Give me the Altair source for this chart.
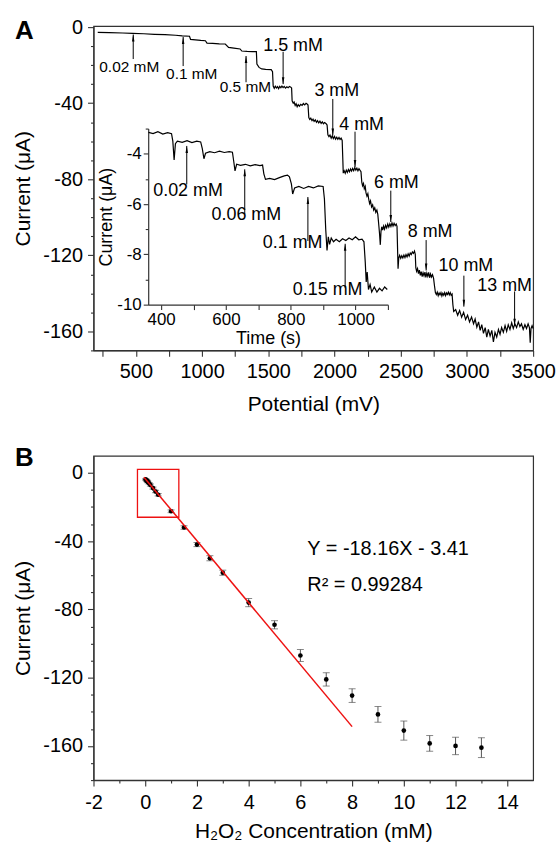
import altair as alt
import pandas as pd

FONT = "Liberation Sans"

# ---------------- Panel A : main amperometric trace ----------------
a_x = [212, 300, 400, 475, 560, 640, 720, 800, 850, 905, 913, 950, 990, 1025, 1037, 1080, 1130, 1175, 1200, 1240,
       1287, 1300, 1340, 1380, 1410, 1414, 1430, 1450, 1480, 1522, 1532, 1537,
       1545, 1553, 1561, 1570, 1578, 1586, 1595, 1603, 1612, 1620, 1630, 1640, 1650, 1660, 1670, 1676,
       1680, 1688, 1695, 1703, 1710, 1718, 1726, 1735, 1745, 1755, 1765, 1775, 1785, 1795, 1800,
       1806, 1813, 1821, 1830, 1838, 1846, 1855, 1864, 1872, 1881, 1890, 1899, 1908, 1916, 1925, 1935, 1944,
       1950, 1958, 1966, 1975, 1983, 1991, 2000, 2008, 2017, 2025, 2034, 2042, 2050, 2058,
       2063, 2066, 2073, 2081, 2089, 2097, 2105, 2113, 2121, 2129, 2137, 2145, 2153, 2161, 2169, 2177, 2185, 2193, 2200,
       2206, 2212, 2219, 2225, 2232, 2238, 2245, 2252, 2258, 2265, 2272, 2280, 2288, 2296, 2304, 2312, 2320, 2327,
       2333, 2340, 2346, 2351, 2357, 2364, 2371, 2378, 2386, 2394, 2402, 2410, 2418, 2426, 2434, 2442, 2450, 2458,
       2466, 2472,
       2476, 2480, 2485, 2492, 2500, 2508, 2516, 2524, 2532, 2540, 2548, 2556, 2564, 2572, 2580, 2588, 2596, 2604, 2610,
       2614, 2620, 2627, 2634, 2641, 2648, 2655, 2662, 2669, 2676, 2683, 2690, 2697, 2704, 2711, 2718, 2725, 2732,
       2740, 2748,
       2755, 2762, 2769, 2776, 2783, 2790, 2797, 2804, 2811, 2818, 2825, 2832, 2839, 2846, 2853, 2860, 2867, 2874,
       2881, 2888,
       2894, 2900, 2915, 2930, 2945, 2960, 2975, 2990, 3005, 3020, 3035, 3050, 3062, 3075, 3088, 3100, 3112, 3125,
       3138, 3150, 3162, 3175, 3188, 3200, 3212, 3225, 3238, 3250, 3262, 3275, 3288, 3300, 3312, 3325, 3338, 3350,
       3362, 3375, 3388, 3400, 3412, 3425, 3438, 3450, 3462, 3472, 3478, 3484, 3492, 3500]
a_y = [-2.8, -2.9, -3.1, -3.3, -3.5, -3.8, -4.0, -4.3, -4.6, -4.8, -6.5, -6.7, -7.0, -7.2, -8.4, -8.6, -8.8, -8.9,
       -10.7, -11.1, -11.5, -12.6, -12.8, -12.9, -12.9, -19.4, -21.2, -22.0, -22.2, -22.4, -23.5, -31.0,
       -32.2, -31.1, -32.0, -31.3, -32.4, -31.2, -31.9, -31.0, -31.8, -31.2, -32.1, -31.4, -31.9, -31.2, -31.6, -32.0,
       -38.8, -40.0, -39.4, -41.2, -40.3, -41.9, -40.8, -41.6, -40.6, -41.2, -40.2, -40.9, -40.1, -40.6, -41.0,
       -47.6, -48.6, -47.9, -49.2, -48.4, -49.6, -48.8, -50.1, -49.2, -50.4, -49.5, -50.6, -49.8, -50.8, -50.2, -50.7,
       -51.5,
       -56.6, -57.6, -56.8, -58.4, -57.2, -58.6, -57.5, -58.9, -57.9, -59.0, -58.0, -59.1, -58.4, -59.6,
       -70.0, -76.8, -75.6, -76.9, -75.2, -76.4, -74.9, -76.1, -74.6, -75.7, -74.3, -75.5, -73.9, -75.2, -74.2, -75.6,
       -74.5, -75.3, -76.0,
       -81.5, -83.4, -82.2, -85.0, -83.8, -87.2, -88.9, -87.6, -90.4, -92.8, -91.4, -94.6, -93.5, -96.2, -95.0, -97.4,
       -96.2, -98.5,
       -103.0, -108.5, -114.5, -107.5, -105.0, -106.8, -104.6, -106.2, -104.2, -105.6, -103.6, -105.2, -103.4, -104.8,
       -103.0, -104.6, -103.2, -104.4, -103.6, -104.8,
       -116.0, -127.0, -121.5, -120.0, -121.6, -120.2, -121.4, -119.9, -121.2, -119.6, -120.8, -119.2, -120.4, -118.8,
       -119.6, -118.2, -119.0, -117.8, -119.5,
       -126.5, -128.4, -127.0, -129.6, -127.8, -130.6, -128.6, -131.2, -129.2, -130.8, -128.8, -131.6, -129.4, -131.0,
       -129.0, -131.8, -129.8, -131.4, -130.2, -132.0,
       -136.0, -139.6, -140.6, -139.4, -141.2, -139.8, -140.8, -139.6, -141.4, -140.0, -141.0, -139.6, -141.2, -139.8,
       -140.6, -139.4, -140.8, -139.6, -141.0, -140.4,
       -146.0, -149.5, -148.5, -151.5, -149.0, -152.5, -150.0, -153.8, -151.5, -155.0, -152.5, -156.0, -153.5, -157.8,
       -155.0, -159.5, -156.5, -161.0, -158.0, -163.0, -159.0, -162.5, -159.5, -165.5, -160.5, -163.0, -159.0, -161.5,
       -158.0, -160.5, -157.0, -160.0, -156.5, -159.0, -155.5, -158.5, -156.0, -158.0, -155.0, -157.5, -156.0, -159.0,
       -156.5, -158.5, -156.0, -158.0, -166.0, -158.5, -157.0, -158.5]

# arrows of the main trace
arr_x = [480, 857, 1332, 1612, 1987, 2155, 2425, 2692, 2977, 3360]
arr_tail = [-16.8, -20.5, -29.0, -13.0, -37.8, -55.0, -86.0, -112.0, -130.7, -139.0]
arr_head = [-3.9, -5.2, -15.2, -30.0, -57.0, -73.6, -102.5, -128.0, -147.0, -157.0]
arr_label = ["0.02 mM", "0.1 mM", "0.5 mM", "1.5 mM", "3 mM", "4 mM", "6 mM", "8 mM", "10 mM", "13 mM"]
arr_label_x = [450, 922, 1327, 1687, 2017, 2205, 2467, 2722, 2992, 3285]
arr_label_y = [-21.0, -24.7, -31.5, -10.0, -33.6, -51.4, -82.0, -107.6, -125.5, -136.0]
arr_font = [15.5, 15.5, 15.5, 18, 18, 18, 18, 18, 18, 18]

# ---------------- Panel A : inset ----------------
in_x = [361, 375, 390, 405, 420, 432, 436, 440, 444, 450, 465, 480, 495, 510, 522, 527, 532, 537, 550, 565, 580,
        595, 610, 620, 624, 628, 633, 645, 660, 675, 690, 705, 713, 717, 722, 735, 750, 765, 780, 790, 796, 802,
        806, 812, 825, 840, 855, 870, 885, 900, 904, 908, 912, 916, 920, 925, 932, 940, 950, 960, 970, 980, 990,
        1000, 1010, 1020, 1026, 1030, 1033, 1036, 1040, 1045, 1050, 1058, 1066, 1074, 1082, 1090, 1098]
in_y = [-3.15, -3.2, -3.12, -3.22, -3.16, -3.2, -3.5, -4.25, -3.6, -3.5, -3.55, -3.48, -3.56, -3.5, -3.53, -3.8,
        -4.2, -3.98, -3.92, -3.96, -3.9, -3.95, -3.92, -3.94, -4.3, -4.68, -4.42, -4.46, -4.42, -4.48, -4.43, -4.47,
        -4.45, -4.8, -5.02, -4.98, -5.03, -4.95, -4.88, -4.85, -4.92, -5.2, -5.6, -5.36, -5.3, -5.38, -5.3, -5.36,
        -5.28, -5.3, -5.8, -7.0, -7.85, -7.3, -7.6, -7.35, -7.5, -7.4, -7.5, -7.38, -7.45, -7.35, -7.42, -7.3,
        -7.42, -7.4, -7.5, -8.3, -9.1, -8.7, -9.4, -9.2, -9.5, -9.3, -9.5, -9.35, -9.45, -9.3, -9.4]

in_arr_x = [479, 658, 853, 968]
in_arr_tail = [-5.22, -6.41, -7.47, -9.33]
in_arr_head = [-3.69, -4.62, -5.72, -7.58]
in_label = ["0.02 mM", "0.06 mM", "0.1 mM", "0.15 mM"]
in_label_x = [483, 663, 806, 914]
in_label_y = [-5.47, -6.45, -7.54, -9.42]

# ---------------- Panel B : calibration ----------------
conc = [0.02, 0.04, 0.06, 0.08, 0.1, 0.15, 0.2, 0.3, 0.4, 0.5, 1, 1.5, 2, 2.5, 3, 4, 5, 6, 7, 8, 9, 10, 11, 12, 13]
cur = [-3.8, -4.2, -4.5, -4.9, -5.3, -6.1, -7.1, -8.9, -10.9, -12.8, -22.5, -32.0, -42.0, -50.0, -58.5, -76.0,
       -89.0, -107.0, -121.0, -130.5, -141.5, -151.0, -158.5, -160.0, -161.0]
err = [0.4, 0.4, 0.4, 0.5, 0.5, 0.5, 0.6, 0.6, 0.7, 0.7, 0.8, 1.0, 1.2, 1.5, 1.5, 2.4, 2.4, 3.5, 3.9, 4.0, 4.6,
       5.6, 4.6, 5.1, 5.8]
fit_x = [-0.05, 8]
fit_slope = -18.16
fit_icpt = -3.41
box_x = [-0.3, 1.3]
box_y = [2, -26]
eq_text = ["Y = -18.16X - 3.41", "R² = 0.99284"]
eq_x = [6.27, 6.27]
eq_y = [-44.5, -65.8]

# ---------------- styling helpers ----------------
UP = "M0,0L0.36,2L-0.36,2Z"
DOWN = "M0,0L0.36,-2L-0.36,-2Z"


def cond_tick(mod, big, small):
    return {"condition": {"test": f"datum.value % {mod} == 0", "value": big}, "value": small}


def lab(mod):
    return f"datum.value % {mod} == 0 ? '' + datum.value : ''"


W, H = 442, 326

# ---- main A ----
xA = alt.X("x:Q", scale=alt.Scale(domain=[180, 3500], nice=False, zero=False),
           axis=alt.Axis(title="Potential (mV)", values=list(range(250, 3501, 250)), labelExpr=lab(500),
                         tickSize=6, labelPadding=5, titlePadding=12, labelFlush=False))
yA = alt.Y("y:Q", scale=alt.Scale(domain=[-170, 0.5], nice=False, zero=False),
           axis=alt.Axis(title="Current (μA)", values=list(range(-170, 1, 10)), labelExpr=lab(40),
                         tickSize=cond_tick(40, 6, 3), labelPadding=5, titlePadding=9))

dfA = pd.DataFrame({"x": a_x, "y": a_y})
dfArr = pd.DataFrame({"x": arr_x, "y": arr_tail, "y2": arr_head})
dfHead = pd.DataFrame({"x": arr_x, "y": arr_head,
                       "dir": ["up" if h > t else "down" for h, t in zip(arr_head, arr_tail)]})
dfLab = pd.DataFrame({"x": arr_label_x, "y": arr_label_y, "t": arr_label, "fs": arr_font})

shape_enc = alt.Shape("dir:N", scale=alt.Scale(domain=["up", "down"], range=[UP, DOWN]), legend=None)

mainA = alt.layer(
    alt.Chart(dfA).mark_line(color="black", strokeWidth=1.2).encode(x=xA, y=yA, order="x:Q"),
    alt.Chart(dfArr).mark_rule(color="black", strokeWidth=1).encode(x=xA, y=yA, y2="y2:Q"),
    alt.Chart(dfHead).mark_point(filled=True, color="black", opacity=1, size=49, strokeWidth=0).encode(
        x=xA, y=yA, shape=shape_enc),
    alt.Chart(dfLab).mark_text(font=FONT, color="black", baseline="middle", align="center").encode(
        x=xA, y=yA, text="t:N", size=alt.Size("fs:Q", scale=None)),
)

# ---- inset A ----
xI = alt.X("x:Q", scale=alt.Scale(domain=[360, 1100], range=[55, 296], nice=False, zero=False),
           axis=alt.Axis(orient="bottom", offset=-46, title="Time (s)", values=list(range(400, 1101, 100)),
                         labelExpr=lab(200), tickSize=5, labelPadding=2, titlePadding=2,
                         labelFontSize=17, titleFontSize=18, labelFlush=False))
yI = alt.Y("y:Q", scale=alt.Scale(domain=[-10, -3], range=[280, 103], nice=False, zero=False),
           axis=alt.Axis(orient="left", offset=-55, title="Current (μA)", values=list(range(-10, -2, 1)),
                         labelExpr=lab(2), tickSize=cond_tick(2, 5, 3), labelPadding=2, titlePadding=1,
                         labelFontSize=17, titleFontSize=18))

dfI = pd.DataFrame({"x": in_x, "y": in_y})
dfIArr = pd.DataFrame({"x": in_arr_x, "y": in_arr_tail, "y2": in_arr_head})
dfIHead = pd.DataFrame({"x": in_arr_x, "y": in_arr_head, "dir": ["up"] * len(in_arr_x)})
dfILab = pd.DataFrame({"x": in_label_x, "y": in_label_y, "t": in_label})

insetA = alt.layer(
    alt.Chart(dfI).mark_line(color="black", strokeWidth=1.2).encode(x=xI, y=yI, order="x:Q"),
    alt.Chart(dfIArr).mark_rule(color="black", strokeWidth=1).encode(x=xI, y=yI, y2="y2:Q"),
    alt.Chart(dfIHead).mark_point(filled=True, color="black", opacity=1, size=49, strokeWidth=0).encode(
        x=xI, y=yI, shape=shape_enc),
    alt.Chart(dfILab).mark_text(font=FONT, color="black", baseline="middle", align="center", fontSize=18).encode(
        x=xI, y=yI, text="t:N"),
)

chartA = alt.layer(mainA, insetA).resolve_scale(x="independent", y="independent").properties(
    width=W, height=H,
    title=alt.TitleParams("A", anchor="start", frame="group", fontSize=26, fontWeight="bold", font=FONT,
                          baseline="alphabetic", dx=-79, dy=48, offset=0))

# ---- panel B ----
xB = alt.X("x:Q", scale=alt.Scale(domain=[-2, 15], nice=False, zero=False),
           axis=alt.Axis(title="H₂O₂ Concentration (mM)", values=list(range(-2, 15)), labelExpr=lab(2),
                         tickSize=cond_tick(2, 6, 3), labelPadding=7, titlePadding=8, labelFlush=False))
yB = alt.Y("y:Q", scale=alt.Scale(domain=[-180, 10], nice=False, zero=False),
           axis=alt.Axis(title="Current (μA)", values=list(range(-180, 1, 10)), labelExpr=lab(40),
                         tickSize=cond_tick(40, 6, 3), labelPadding=5, titlePadding=9))

dfErr = pd.DataFrame({"x": conc, "y": [c - e for c, e in zip(cur, err)],
                      "y2": [c + e for c, e in zip(cur, err)]})
dfB = pd.DataFrame({"x": conc, "y": cur})
dfCaps = pd.DataFrame({"x": conc + conc, "y": list(dfErr["y"]) + list(dfErr["y2"])})
dfFit = pd.DataFrame({"x": fit_x, "y": [fit_slope * v + fit_icpt for v in fit_x]})
dfBox = pd.DataFrame({"x": [box_x[0]], "x2": [box_x[1]], "y": [box_y[0]], "y2": [box_y[1]]})
dfEq = pd.DataFrame({"x": eq_x, "y": eq_y, "t": eq_text})

chartB = alt.layer(
    alt.Chart(dfErr).mark_rule(color="#555555", strokeWidth=1).encode(x=xB, y=yB, y2="y2:Q"),
    alt.Chart(dfCaps).mark_tick(orient="horizontal", size=7, thickness=1, color="#555555").encode(x=xB, y=yB),
    alt.Chart(dfB).mark_circle(color="black", opacity=1, size=22).encode(x=xB, y=yB),
    alt.Chart(dfFit).mark_line(color="#ee1111", strokeWidth=1.5).encode(x=xB, y=yB),
    alt.Chart(dfBox).mark_rect(fillOpacity=0, stroke="#ee1111", strokeWidth=1.3).encode(
        x=xB, x2="x2:Q", y=yB, y2="y2:Q"),
    alt.Chart(dfEq).mark_text(font=FONT, fontSize=20, align="left", baseline="middle", color="black").encode(
        x=xB, y=yB, text="t:N"),
).properties(
    width=W, height=H,
    title=alt.TitleParams("B", anchor="start", frame="group", fontSize=26, fontWeight="bold", font=FONT,
                          baseline="alphabetic", dx=-79, dy=36, offset=0))

chart = alt.vconcat(chartA, chartB, spacing=29).properties(
    padding={"left": 12, "top": 14, "right": 2, "bottom": 1},
    background="white",
).configure_view(stroke="#333333", strokeWidth=1.2).configure_axis(
    grid=False, domainColor="#333333", tickColor="#333333", labelColor="black", titleColor="black",
    labelFont=FONT, titleFont=FONT, labelFontSize=20, titleFontSize=21, titleFontWeight="normal",
    domainWidth=1.2, tickWidth=1.1,
)

chart.save("out.html", embed_options={"renderer": "svg", "actions": False})
